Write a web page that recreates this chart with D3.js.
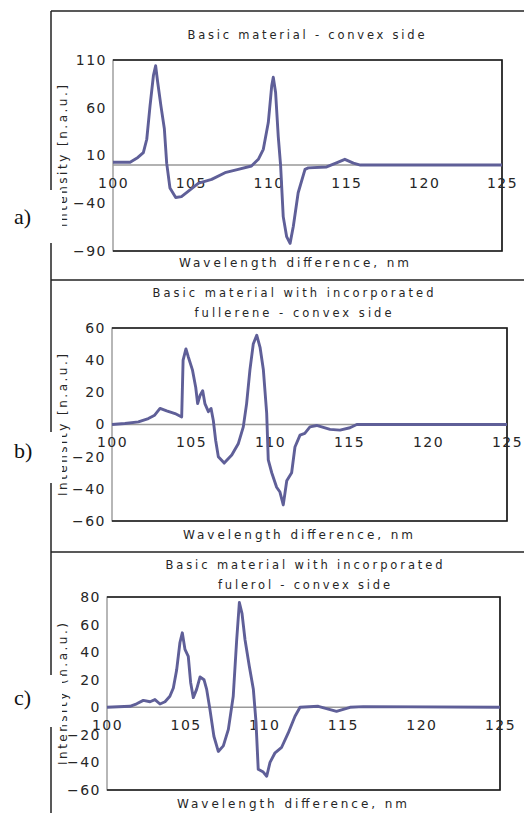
<!DOCTYPE html>
<html lang="en">
  <head>
    <meta charset="utf-8">
    <title>Wavelength difference spectra</title>
    <script src="https://d3js.org/d3.v7.min.js"></script>
    <style type="text/css">
      body { margin: 0; background: #fff; }
      svg text { font-family: "DejaVu Sans", sans-serif; fill: #262626; }
      .curve { fill: none; stroke: #5f5f98; stroke-width: 2.9px; stroke-linejoin: round; }
      .letter { font-family: "Liberation Serif", serif !important; fill: #111 !important; }
    </style>
  </head>
  <body>
    <script>
      var w = 524, h = 816;

      // shared x ticks
      var xTicks = [100, 105, 110, 115, 120, 125];

      // a) basic material
      var yTicksA = [110, 60, 10, -40, -90];
      var nmA = [100, 101.1, 101.6, 101.95, 102.17, 102.38, 102.6, 102.74, 102.87, 103.08,
        103.3, 103.45, 103.66, 104.03, 104.4, 104.95, 105.5, 105.9, 106.34, 107.2,
        108.05, 108.9, 109.34, 109.66, 109.98, 110.2, 110.3, 110.45, 110.62, 110.77,
        110.94, 111.16, 111.38, 111.59, 111.9, 112.34, 112.55, 113.73, 114.4, 114.9,
        115.45, 115.9, 125];
      var intA = [3, 3, 8, 13, 27, 62, 94, 104, 87, 62,
        38, 2, -24, -34, -33, -26, -19, -17, -15, -8,
        -4.5, -1, 6, 16.5, 44.5, 83, 92, 76, 30, 0,
        -54, -75, -82, -64, -29, -4.5, -3, -2, 2.5, 6,
        2, 0, 0];

      // b) with fullerene
      var yTicksB = [60, 40, 20, 0, -20, -40, -60];
      var nmB = [100, 100.82, 101.67, 102.3, 102.7, 103.04, 103.46, 103.99, 104.41, 104.5,
        104.68, 104.83, 105.09, 105.3, 105.42, 105.57, 105.74, 105.88, 106.1, 106.27,
        106.41, 106.56, 106.73, 107.1, 107.58, 107.99, 108.31, 108.52, 108.73, 108.94,
        109.16, 109.37, 109.58, 109.79, 109.89, 110.11, 110.42, 110.63, 110.84, 111.06,
        111.37, 111.58, 111.9, 112.2, 112.53, 112.95, 113.8, 114.43, 115.06, 115.49, 125];
      var intB = [0, 0.6, 1.6, 3.7, 5.8, 10, 8.5, 6.8, 4.7, 40,
        47, 42, 34, 23, 13, 18, 21, 13, 8, 10,
        2.7, -9.8, -20, -24, -19, -12, -1.5, 13, 34, 50,
        55.5, 48, 34, 7, -22, -30, -39, -42, -50, -35,
        -30, -14, -6.6, -5.5, -1.5, -0.6, -3, -3.5, -2, 0, 0];

      // c) with fullerol
      var yTicksC = [80, 60, 40, 20, 0, -20, -40, -60];
      var nmC = [100, 101.46, 101.89, 102.31, 102.74, 103.05, 103.37, 103.69, 104.0, 104.22,
        104.43, 104.64, 104.79, 104.96, 105.17, 105.32, 105.49, 105.7, 105.92, 106.17,
        106.34, 106.55, 106.8, 107.08, 107.4, 107.72, 108.03, 108.25, 108.42, 108.59,
        108.78, 109.05, 109.31, 109.48, 109.62, 109.94, 110.16, 110.37, 110.69, 111.11,
        111.53, 111.96, 112.28, 113.44, 114.6, 115.46, 116.3, 125];
      var intC = [0, 0.7, 2.5, 5, 4, 5.6, 2.4, 4, 8, 14,
        27, 47, 54, 42, 37, 18, 7, 13, 22, 20,
        13, -1.7, -21, -32, -28, -16, 8, 49, 76, 68,
        49, 30, 13, -11, -45, -47, -50, -40, -33, -29,
        -18.6, -6.5, 0, 0.7, -2.9, 0, 0.5, 0];

      var svg = d3.select("body").append("svg")
          .attr("width", w).attr("height", h);

      var panels = [
        { nm: nmA, val: intA, yTicks: yTicksA, l: 113, r: 502, t: 60, b: 251,
          title: ["Basic material - convex side"], titleX: 306, titleY: [39], titleW: [237],
          xTitleX: 294, xTitleY: 267, yTitle: "Intensity [n.a.u.]", yTitleY: 156,
          letter: "a)", letterY: 224, gap: [190, 243], frameTop: 11 },
        { nm: nmB, val: intB, yTicks: yTicksB, l: 112, r: 507, t: 328, b: 521,
          title: ["Basic material with incorporated", "fullerene - convex side"],
          titleX: 293, titleY: [297, 317], titleW: [281, 197],
          xTitleX: 298, xTitleY: 539, yTitle: "Intensity [n.a.u.]", yTitleY: 425,
          letter: "b)", letterY: 458, gap: [432, 483], frameTop: 280 },
        { nm: nmC, val: intC, yTicks: yTicksC, l: 107, r: 500, t: 597, b: 790,
          title: ["Basic material with incorporated", "fulerol - convex side"],
          titleX: 304, titleY: [569, 589], titleW: [277, 172],
          xTitleX: 292, xTitleY: 808, yTitle: "Intensity (n.a.u.)", yTitleY: 694,
          letter: "c)", letterY: 705, gap: [675, 727], frameTop: 552 }
      ];

      // outer frame: left rule + top rule of each panel
      svg.append("line").attr("x1", 51).attr("x2", 51).attr("y1", 11).attr("y2", 813)
        .attr("stroke", "#222").attr("stroke-width", 1.5);

      panels.forEach(function(p) {
        svg.append("line").attr("x1", 51).attr("x2", w).attr("y1", p.frameTop).attr("y2", p.frameTop)
          .attr("stroke", "#222").attr("stroke-width", 1.5);

        var x = d3.scaleLinear().domain([100, 125]).range([p.l, p.r]);
        var y = d3.scaleLinear().domain([p.yTicks[p.yTicks.length - 1], p.yTicks[0]]).range([p.b, p.t]);

        var g = svg.append("g");

        // plot area border
        g.append("rect").attr("x", p.l).attr("y", p.t)
          .attr("width", p.r - p.l).attr("height", p.b - p.t)
          .attr("fill", "none").attr("stroke", "#888").attr("stroke-width", 1.2);
        g.append("path")
          .attr("d", "M" + p.l + "," + p.t + "H" + p.r + "V" + p.b + "H" + p.l)
          .attr("fill", "none").attr("stroke", "#1a1a1a").attr("stroke-width", 1.6);

        // zero line
        g.append("line").attr("x1", p.l).attr("x2", p.r).attr("y1", y(0)).attr("y2", y(0))
          .attr("stroke", "#999").attr("stroke-width", 1.5);

        var yAxis = g.append("g").attr("transform", "translate(" + p.l + ",0)")
          .call(d3.axisLeft(y).tickValues(p.yTicks).tickSize(0).tickPadding(6));
        yAxis.select(".domain").remove();

        var xAxis = g.append("g").attr("transform", "translate(0," + y(0) + ")")
          .call(d3.axisBottom(x).tickValues(xTicks).tickSize(0).tickPadding(13));
        xAxis.select(".domain").remove();

        g.selectAll(".tick text")
          .attr("font-family", "DejaVu Sans").attr("font-size", 14)
          .attr("fill", "#262626").style("letter-spacing", "1.5px");

        var line = d3.line().x(function(d, i) { return x(p.nm[i]); })
          .y(function(d) { return y(d); });
        g.append("path").datum(p.val).attr("class", "curve").attr("d", line);

        // titles
        p.title.forEach(function(s, i) {
          g.append("text").attr("x", p.titleX).attr("y", p.titleY[i])
            .attr("text-anchor", "middle").attr("font-size", 11.5)
            .attr("textLength", p.titleW[i]).attr("lengthAdjust", "spacing")
            .text(s);
        });
        g.append("text").attr("x", p.xTitleX).attr("y", p.xTitleY)
          .attr("text-anchor", "middle").attr("font-size", 12)
          .attr("textLength", 230).attr("lengthAdjust", "spacing")
          .text("Wavelength difference, nm");
        g.append("text")
          .attr("transform", "translate(67," + p.yTitleY + ") rotate(-90)")
          .attr("text-anchor", "middle").attr("font-size", 12)
          .attr("textLength", 142).attr("lengthAdjust", "spacing")
          .text(p.yTitle);

        // white label box that cuts the frame and part of the axis title
        svg.append("rect").attr("x", 0).attr("y", p.gap[0])
          .attr("width", 62).attr("height", p.gap[1] - p.gap[0]).attr("fill", "#fff");
        svg.append("text").attr("class", "letter").attr("x", 14).attr("y", p.letterY)
          .attr("font-size", 22).text(p.letter);
      });
    </script>
  </body>
</html>
